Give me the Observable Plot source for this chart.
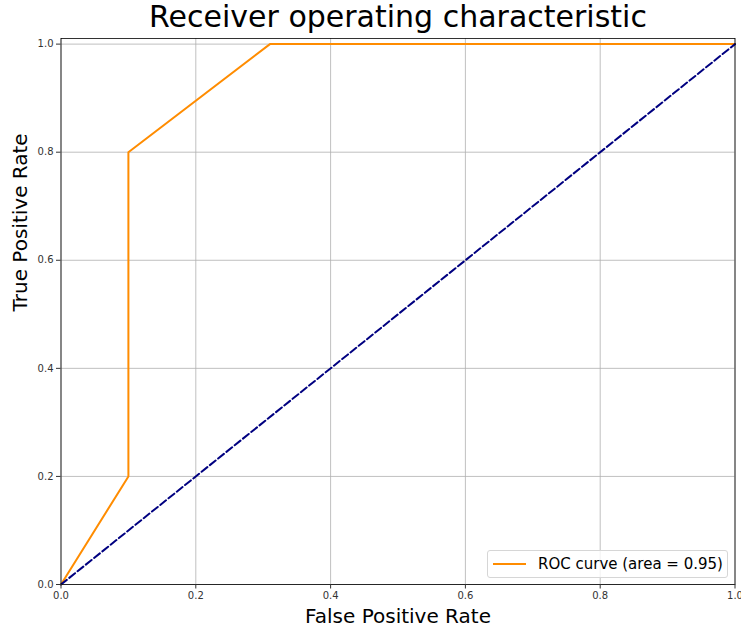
<!DOCTYPE html>
<html>
<head>
<meta charset="utf-8">
<script src="https://cdn.jsdelivr.net/npm/d3@7"></script>
<script src="https://cdn.jsdelivr.net/npm/@observablehq/plot@0.6"></script>
<style>
  html, body { margin: 0; padding: 0; background: #fff; }
  #wrap { position: relative; width: 741px; height: 628px; font-family: "DejaVu Sans", sans-serif; }
  #legend {
    position: absolute; left: 487px; top: 550px; width: 239px; height: 26px;
    border: 1px solid #d6d6d6; border-radius: 3px; background: rgba(255,255,255,0.8);
    display: flex; align-items: center; font-size: 15px; color: #000;
  }
  #legend .swatch { width: 33px; height: 0; border-top: 2px solid darkorange; margin: 0 12px 0 5px; }
</style>
</head>
<body>
<div id="wrap"></div>
<script>
// ROC curve points (false positive rate, true positive rate)
const fpr = [0.0, 0.1, 0.1, 0.31, 1.0];
const tpr = [0.0, 0.2, 0.8, 1.0, 1.0];
// chance line
const chanceX = [0, 1];
const chanceY = [0, 1];
const ticks = [0.0, 0.2, 0.4, 0.6, 0.8, 1.0];
const rocAuc = 0.95;

const roc = fpr.map((x, i) => ({x, y: tpr[i]}));
const chance = chanceX.map((x, i) => ({x, y: chanceY[i]}));

const chart = Plot.plot({
  width: 741,
  height: 628,
  marginLeft: 60.5,
  marginRight: 6.5,
  marginTop: 38,
  marginBottom: 44,
  style: {fontFamily: "DejaVu Sans, sans-serif", background: "#fff"},
  x: {domain: [0, 1], ticks, tickFormat: d3.format(".1f"), label: null},
  y: {domain: [0, 1.0104], ticks, tickFormat: d3.format(".1f"), label: null},
  marks: [
    Plot.gridX(ticks, {stroke: "#b0b0b0", strokeOpacity: 1, strokeWidth: 0.8}),
    Plot.gridY(ticks, {stroke: "#b0b0b0", strokeOpacity: 1, strokeWidth: 0.8}),
    Plot.line(roc, {x: "x", y: "y", stroke: "darkorange", strokeWidth: 2}),
    Plot.line(chance, {x: "x", y: "y", stroke: "navy", strokeWidth: 2, strokeDasharray: "7.4,3.2"}),
    Plot.frame({stroke: "#000", strokeWidth: 0.8}),
    Plot.axisX(ticks, {tickSize: 4.5, tickFormat: d3.format(".1f"), fontSize: 10, fill: "#333", stroke: "#333", tickPadding: 3, label: null}),
    Plot.axisY(ticks, {tickSize: 4.5, tickFormat: d3.format(".1f"), fontSize: 10, fill: "#333", stroke: "#333", tickPadding: 3, label: null}),
    Plot.text(["Receiver operating characteristic"], {frameAnchor: "top", dy: -21, fontSize: 30, fill: "#000", lineAnchor: "middle"}),
    Plot.text(["False Positive Rate"], {frameAnchor: "bottom", dy: 32, fontSize: 20, fill: "#000", lineAnchor: "middle"}),
    Plot.text(["True Positive Rate"], {frameAnchor: "left", dx: -40, rotate: -90, fontSize: 20, fill: "#000", lineAnchor: "middle"})
  ]
});

const wrap = document.getElementById("wrap");
wrap.appendChild(chart);
const legend = document.createElement("div");
legend.id = "legend";
legend.innerHTML = `<span class="swatch"></span><span>ROC curve (area = ${rocAuc.toFixed(2)})</span>`;
wrap.appendChild(legend);
</script>
</body>
</html>
